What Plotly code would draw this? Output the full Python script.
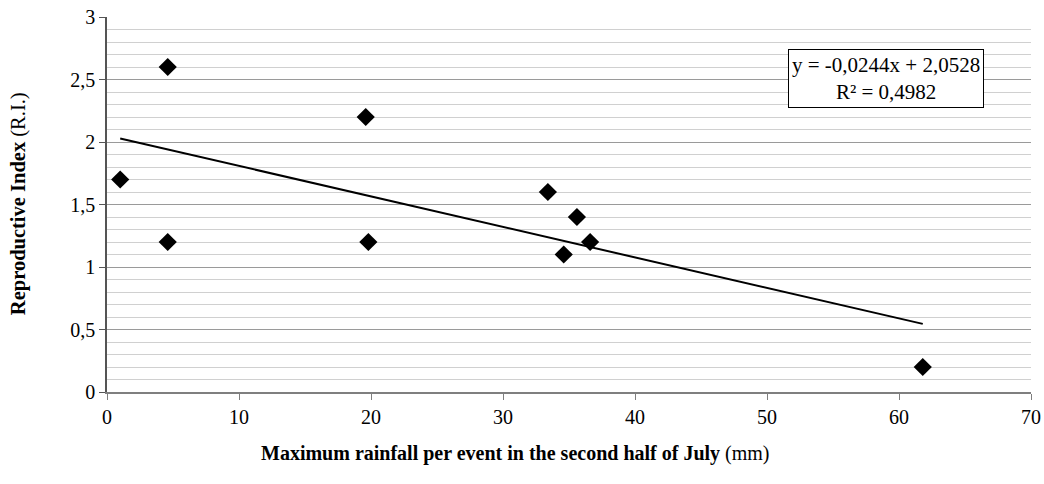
import plotly.graph_objects as go

rainfall = [1.0, 4.6, 4.6, 19.6, 19.8, 33.4, 35.6, 34.6, 36.6, 61.8]
ri = [1.7, 2.6, 1.2, 2.2, 1.2, 1.6, 1.4, 1.1, 1.2, 0.2]
slope = -0.0244
intercept = 2.0528
r2_text = "0,4982"
trend_x = [min(rainfall), max(rainfall)]
trend_y = [slope * v + intercept for v in trend_x]

font = "Liberation Serif, Times New Roman, serif"

fig = go.Figure()
fig.add_trace(go.Scatter(x=trend_x, y=trend_y, mode="lines",
                         line=dict(color="black", width=2), hoverinfo="skip"))
fig.add_trace(go.Scatter(x=rainfall, y=ri, mode="markers",
                         marker=dict(symbol="diamond", size=14, color="black")))

fig.add_annotation(x=59.0, y=2.51, xref="x", yref="y",
                   text="y = -0,0244x + 2,0528<br>R² = " + r2_text,
                   showarrow=False, align="center",
                   font=dict(family=font, size=21, color="black"),
                   bgcolor="white", bordercolor="black", borderwidth=1, borderpad=3)

# axis titles
fig.add_annotation(x=0.4426, y=-0.163, xref="paper", yref="paper",
                   xanchor="center", yanchor="middle", showarrow=False,
                   text="<b>Maximum rainfall per event in the second half of July</b> (mm)",
                   font=dict(family=font, size=20, color="black"))
fig.add_annotation(x=-0.0963, y=0.501, xref="paper", yref="paper",
                   xanchor="center", yanchor="middle", showarrow=False, textangle=-90,
                   text="<b>Reproductive Index</b> (R.I.)",
                   font=dict(family=font, size=20.5, color="black"))

fig.update_layout(
    width=1044, height=484,
    margin=dict(l=107, r=13, t=17, b=92, autoexpand=False),
    paper_bgcolor="white", plot_bgcolor="white",
    showlegend=False,
    font=dict(family=font, size=20, color="black"),
    xaxis=dict(range=[0, 70], dtick=10, showgrid=False, zeroline=False, automargin=False,
               showline=True, linecolor="#7f7f7f", linewidth=1.5,
               ticks="outside", ticklen=6, tickcolor="#7f7f7f",
               ticklabeloverflow="allow",
               tickfont=dict(family=font, size=20)),
    yaxis=dict(range=[0, 3], dtick=0.5, tickformat=".1~f", automargin=False,
               showgrid=True, gridcolor="#9a9a9a", gridwidth=1.2,
               minor=dict(dtick=0.1, showgrid=True, gridcolor="#d0d0d0", gridwidth=1.2),
               zeroline=False, showline=True, linecolor="#555555", linewidth=1.5,
               ticks="outside", ticklen=6, tickcolor="#555555",
               ticklabeloverflow="allow",
               tickfont=dict(family=font, size=20)),
    separators=",.",
)
fig.write_html("out.html", config={"displayModeBar": False},
               post_script="document.body.style.margin='0';document.body.style.overflow='hidden';")
